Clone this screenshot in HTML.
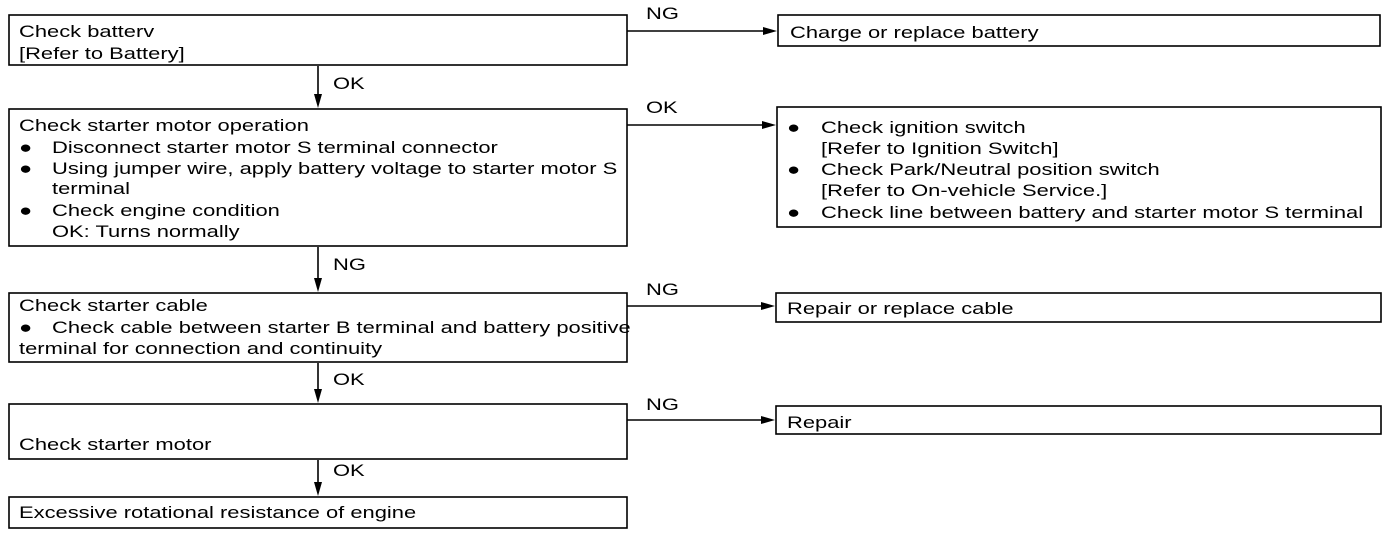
<!DOCTYPE html>
<html><head><style>
body{margin:0;background:#fff}
svg text{font-family:"Liberation Sans",Arial,sans-serif;font-size:17px;fill:#000}
</style></head><body>
<svg width="1392" height="536" viewBox="0 0 1392 536" xmlns="http://www.w3.org/2000/svg">
<g fill="none" stroke="#000" stroke-width="1.6">
<rect x="9" y="15" width="618" height="50"/>
<rect x="9" y="109" width="618" height="137"/>
<rect x="9" y="293" width="618" height="69"/>
<rect x="9" y="404" width="618" height="55"/>
<rect x="9" y="497" width="618" height="31"/>
<rect x="778" y="15" width="602" height="31"/>
<rect x="777" y="107" width="604" height="120"/>
<rect x="776" y="293" width="605" height="29"/>
<rect x="776" y="406" width="605" height="28"/>
<line x1="318" y1="66" x2="318" y2="96"/>
<line x1="318" y1="247" x2="318" y2="280"/>
<line x1="318" y1="363" x2="318" y2="391"/>
<line x1="318" y1="460" x2="318" y2="484"/>
<line x1="627" y1="31" x2="766" y2="31"/>
<line x1="627" y1="125" x2="765" y2="125"/>
<line x1="627" y1="306" x2="764" y2="306"/>
<line x1="627" y1="420" x2="764" y2="420"/>
</g>
<g fill="#000">
<path d="M314,94 L322,94 L318,108z"/>
<path d="M314,278 L322,278 L318,292z"/>
<path d="M314,389 L322,389 L318,403z"/>
<path d="M314,482 L322,482 L318,496z"/>
<path d="M763,27 L763,35 L777,31z"/>
<path d="M762,121 L762,129 L776,125z"/>
<path d="M761,302 L761,310 L775,306z"/>
<path d="M761,416 L761,424 L775,420z"/>
</g>
<g transform="scale(1.29,1)">
<text x="14.73" y="37">Check batterv</text>
<text x="14.73" y="59">[Refer to Battery]</text>
<text x="258.14" y="89">OK</text>
<text x="14.73" y="131">Check starter motor operation</text>
<text x="14.73" y="153">●</text><text x="40.31" y="153">Disconnect starter motor S terminal connector</text>
<text x="14.73" y="174">●</text><text x="40.31" y="174">Using jumper wire, apply battery voltage to starter motor S</text>
<text x="40.31" y="194">terminal</text>
<text x="14.73" y="216">●</text><text x="40.31" y="216">Check engine condition</text>
<text x="40.31" y="237">OK: Turns normally</text>
<text x="258.14" y="270">NG</text>
<text x="14.73" y="311">Check starter cable</text>
<text x="14.73" y="333">●</text><text x="40.31" y="333">Check cable between starter B terminal and battery positive</text>
<text x="14.73" y="354">terminal for connection and continuity</text>
<text x="258.14" y="385">OK</text>
<text x="14.73" y="450">Check starter motor</text>
<text x="258.14" y="476">OK</text>
<text x="14.73" y="518">Excessive rotational resistance of engine</text>
<text x="500.78" y="19">NG</text>
<text x="500.78" y="113">OK</text>
<text x="500.78" y="295">NG</text>
<text x="500.78" y="410">NG</text>
<text x="612.4" y="38">Charge or replace battery</text>
<text x="610.08" y="133">●</text><text x="636.43" y="133">Check ignition switch</text>
<text x="636.43" y="154">[Refer to Ignition Switch]</text>
<text x="610.08" y="175">●</text><text x="636.43" y="175">Check Park/Neutral position switch</text>
<text x="636.43" y="196">[Refer to On-vehicle Service.]</text>
<text x="610.08" y="218">●</text><text x="636.43" y="218">Check line between battery and starter motor S terminal</text>
<text x="610.08" y="314">Repair or replace cable</text>
<text x="610.08" y="428">Repair</text>
</g>
</svg>
</body></html>
